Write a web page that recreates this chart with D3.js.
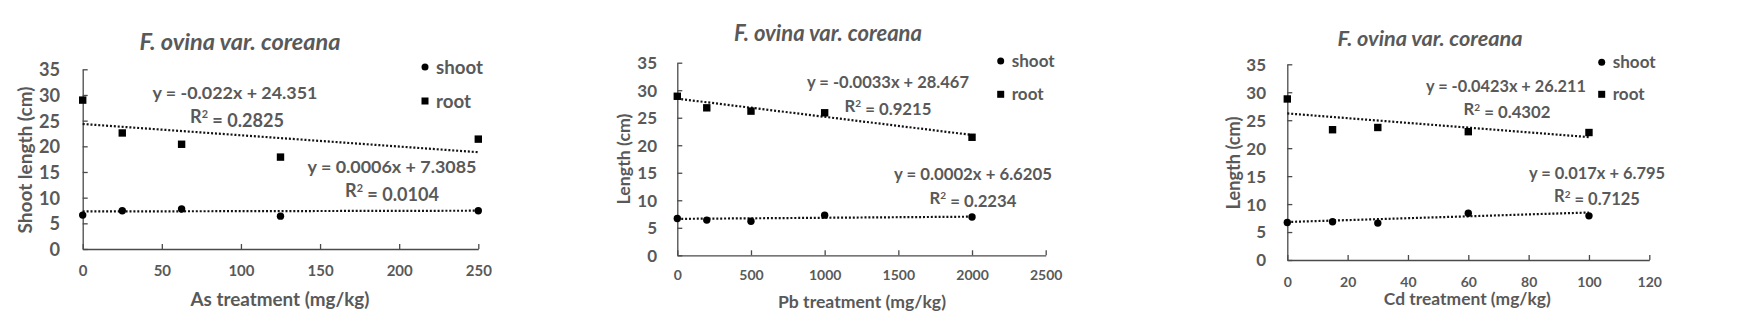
<!DOCTYPE html>
<html><head><meta charset="utf-8">
<script src="https://cdn.jsdelivr.net/npm/d3@7"></script>
<style>
body{margin:0;background:#fff;}
text{font-family:Lato,"Open Sans",sans-serif;}
</style></head>
<body><svg id="c" width="1749" height="336"></svg>
<script>
// ---------- data ----------
const titleText = "F. ovina var. coreana";
const seriesNames = ["shoot", "root"];
const yTicks = [0, 5, 10, 15, 20, 25, 30, 35];

const asX = [0, 25, 62.5, 125, 250];
const asShoot = [6.6, 7.45, 7.8, 6.4, 7.45];
const asRoot = [29.0, 22.6, 20.4, 17.9, 21.4];
const asTicks = [0, 50, 100, 150, 200, 250];
const asShootFit = [0.0006, 7.3085];
const asRootFit = [-0.022, 24.351];
const asEq = ["y = -0.022x + 24.351", "0.2825", "y = 0.0006x + 7.3085", "0.0104"];

const pbX = [0, 200, 500, 1000, 2000];
const pbShoot = [6.7, 6.4, 6.2, 7.3, 6.95];
const pbRoot = [28.9, 26.8, 26.2, 25.9, 21.45];
const pbTicks = [0, 500, 1000, 1500, 2000, 2500];
const pbShootFit = [0.0002, 6.6205];
const pbRootFit = [-0.0033, 28.467];
const pbEq = ["y = -0.0033x + 28.467", "0.9215", "y = 0.0002x + 6.6205", "0.2234"];

const cdX = [0, 15, 30, 60, 100];
const cdShoot = [6.7, 6.85, 6.6, 8.35, 7.9];
const cdRoot = [28.8, 23.3, 23.7, 22.95, 22.8];
const cdTicks = [0, 20, 40, 60, 80, 100, 120];
const cdShootFit = [0.017, 6.795];
const cdRootFit = [-0.0423, 26.211];
const cdEq = ["y = -0.0423x + 26.211", "0.4302", "y = 0.017x + 6.795", "0.7125"];

const xTitles = ["As treatment (mg/kg)", "Pb treatment (mg/kg)", "Cd treatment (mg/kg)"];
const yTitles = ["Shoot length (cm)", "Length (cm)", "Length (cm)"];

// ---------- layout ----------
const panels = [
  {x: asX, shoot: asShoot, root: asRoot, ticks: asTicks, sf: asShootFit, rf: asRootFit, eq: asEq, xt: xTitles[0], yt: yTitles[0],
   L: 82.7, R: 478.3, T: 69.3, B: 249, xmax: 250, xfit: 250, s: 1.07,
   title: [240, 42], ytickX: 60, xtickY: 271, ylab: [25, 160], xlab: [280, 299], leg: [425, 67, 101],
   e1: [235, 93], r1: [237, 117], e2: [392, 167], r2: [392, 191],
   w: {title: 201, e1: 165, r1: 94, e2: 169, r2: 94, xt: 179, yt: 147, leg: 47}},
  {x: pbX, shoot: pbShoot, root: pbRoot, ticks: pbTicks, sf: pbShootFit, rf: pbRootFit, eq: pbEq, xt: xTitles[1], yt: yTitles[1],
   L: 677.3, R: 1045.7, T: 62.7, B: 255.3, xmax: 2500, xfit: 2000, s: 1.0,
   title: [828, 33.5], ytickX: 657, xtickY: 275, ylab: [624, 159], xlab: [862, 301.7], leg: [1000.7, 61, 94.3],
   e1: [888, 82.7], r1: [888, 106], e2: [973, 174.3], r2: [973, 197.7],
   w: {title: 188, e1: 162, r1: 87, e2: 158, r2: 87, xt: 168, yt: 91, leg: 43}},
  {x: cdX, shoot: cdShoot, root: cdRoot, ticks: cdTicks, sf: cdShootFit, rf: cdRootFit, eq: cdEq, xt: xTitles[2], yt: yTitles[2],
   L: 1287.3, R: 1649.3, T: 64.3, B: 260, xmax: 120, xfit: 100, s: 1.0,
   title: [1430, 38.3], ytickX: 1266, xtickY: 281.7, ylab: [1233.3, 163], xlab: [1467.3, 299.3], leg: [1601.7, 62.3, 94.3],
   e1: [1506, 86.7], r1: [1507, 109.3], e2: [1597, 173.3], r2: [1597, 196.7],
   w: {title: 185, e1: 160, r1: 87, e2: 136, r2: 86, xt: 167, yt: 93, leg: 43}}
];

const svg = d3.select("#c");
const grey = "#595959", axisCol = "#4a4a4a";

// scale a text's font so its drawn width matches the reference width
function fit(sel, target) {
  const n = sel.node();
  const fs = parseFloat(sel.style("font-size"));
  const w = n.getComputedTextLength();
  if (w > 0) sel.style("font-size", (fs * target / w).toFixed(2) + "px");
  return sel;
}

panels.forEach(p => {
  const g = svg.append("g");
  const x = d3.scaleLinear().domain([0, p.xmax]).range([p.L, p.R]);
  const y = d3.scaleLinear().domain([0, 35]).range([p.B, p.T]);

  // axes
  const xa = g.append("g").attr("transform", `translate(0,${p.B})`)
    .call(d3.axisBottom(x).tickValues(p.ticks).tickSizeInner(-5).tickSizeOuter(0).tickFormat(d3.format("d")));
  xa.selectAll("text").attr("y", p.xtickY - p.B).attr("dy", "0.35em")
    .attr("fill", grey).style("font-size", (14 * p.s) + "px").style("font-weight", "bold");
  const ya = g.append("g").attr("transform", `translate(${p.L},0)`)
    .call(d3.axisLeft(y).tickValues(yTicks).tickSizeInner(-5).tickSizeOuter(0));
  ya.selectAll("text").attr("x", p.ytickX - p.L).attr("dy", "0.35em")
    .attr("fill", grey).style("font-size", (17 * p.s) + "px").style("font-weight", "bold");
  g.selectAll(".domain, .tick line").attr("stroke", axisCol).attr("stroke-width", 1.3);

  // trendlines
  [p.rf, p.sf].forEach(f => {
    g.append("line")
      .attr("x1", x(0)).attr("y1", y(f[1]))
      .attr("x2", x(p.xfit)).attr("y2", y(f[0] * p.xfit + f[1]))
      .attr("stroke", "#111").attr("stroke-width", 2.2)
      .attr("stroke-dasharray", "2,1.9");
  });

  // points
  g.selectAll(".pt-s").data(p.x.map((v, i) => [v, p.shoot[i]])).join("circle")
    .attr("cx", d => x(d[0])).attr("cy", d => y(d[1])).attr("r", 3.7).attr("fill", "#000");
  g.selectAll(".pt-r").data(p.x.map((v, i) => [v, p.root[i]])).join("rect")
    .attr("x", d => x(d[0]) - 3.7).attr("y", d => y(d[1]) - 3.7)
    .attr("width", 7.4).attr("height", 7.4).attr("fill", "#000");

  const txt = (x0, y0, t, anchor) => g.append("text").attr("x", x0).attr("y", y0).attr("dy", "0.35em")
    .attr("text-anchor", anchor || "middle").attr("fill", grey)
    .style("font-size", "16px").style("font-weight", "bold").text(t);

  // title
  fit(txt(p.title[0], p.title[1], titleText).style("font-style", "italic"), p.w.title);

  // axis titles
  fit(txt(p.xlab[0], p.xlab[1], p.xt), p.w.xt);
  fit(g.append("text").attr("transform", `translate(${p.ylab[0]},${p.ylab[1]}) rotate(-90)`).attr("dy", "0.35em")
    .attr("text-anchor", "middle").attr("fill", grey)
    .style("font-size", "16px").style("font-weight", "bold").text(p.yt), p.w.yt);

  // legend
  g.append("circle").attr("cx", p.leg[0]).attr("cy", p.leg[1]).attr("r", 3.5).attr("fill", "#000");
  g.append("rect").attr("x", p.leg[0] - 3.5).attr("y", p.leg[2] - 3.5).attr("width", 7).attr("height", 7).attr("fill", "#000");
  const l1 = fit(txt(p.leg[0] + 11, p.leg[1], seriesNames[0], "start"), p.w.leg);
  txt(p.leg[0] + 11, p.leg[2], seriesNames[1], "start").style("font-size", l1.style("font-size"));

  // equations
  const rText = (pos, v, w) => {
    const t = txt(pos[0], pos[1], null);
    t.append("tspan").text("R");
    t.append("tspan").attr("dy", "-0.45em").style("font-size", "0.6em").text("2");
    t.append("tspan").attr("dy", "0.45em").text(" = " + v);
    return fit(t, w);
  };
  fit(txt(p.e1[0], p.e1[1], p.eq[0]), p.w.e1);
  rText(p.r1, p.eq[1], p.w.r1);
  fit(txt(p.e2[0], p.e2[1], p.eq[2]), p.w.e2);
  rText(p.r2, p.eq[3], p.w.r2);
});
</script></body></html>
